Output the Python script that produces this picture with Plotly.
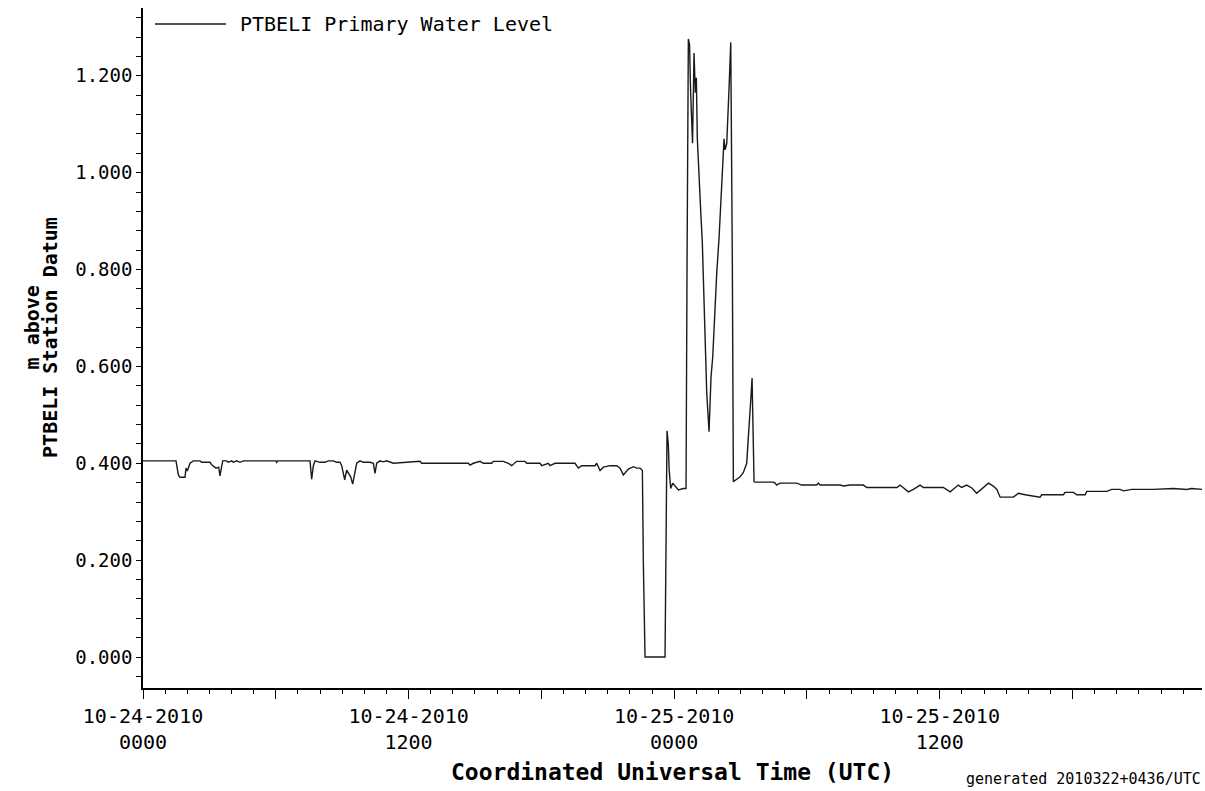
import pandas as pd
import plotly.graph_objects as go

BASE_TIME = "2010-10-24 00:00"
SERIES_NAME = "PTBELI Primary Water Level"

# hours after 2010-10-24 00:00 UTC
HOURS = [
    0.000, 1.491, 1.597, 1.672, 1.898, 1.943, 2.003, 2.124, 2.274, 2.576,
    2.651, 3.028, 3.103, 3.299, 3.419, 3.479, 3.600, 3.781, 3.856, 4.007,
    4.082, 4.233, 4.383, 4.534, 6.000, 6.040, 6.080, 7.546, 7.622, 7.697,
    7.772, 7.998, 8.224, 8.375, 8.601, 8.751, 8.902, 8.977, 9.053, 9.113,
    9.203, 9.324, 9.384, 9.474, 9.580, 9.655, 9.806, 9.956, 10.258, 10.408,
    10.484, 10.559, 10.710,
    10.86, 11.00, 11.312, 12.517, 12.592, 14.701, 14.776, 14.927, 15.228, 15.379,
    15.756, 15.831, 16.283, 16.508, 16.659, 16.885, 17.262, 17.337, 17.939, 18.015,
    18.316, 18.391, 18.617, 19.521, 19.672, 19.823, 20.425, 20.500, 20.651, 20.801,
    21.103, 21.404, 21.555, 21.705, 21.931,
    22.157, 22.308, 22.458, 22.564, 22.609, 22.684, 23.588, 23.618, 23.678, 23.738,
    23.769, 23.844, 23.934, 24.040, 24.190, 24.416, 24.537,
    24.582, 24.641, 24.695, 24.740, 24.830, 24.898, 24.957, 25.002, 25.047, 25.124,
    25.201, 25.273, 25.364, 25.472, 25.576, 25.621, 25.666, 25.743, 25.816, 25.924,
    26.028, 26.118, 26.195, 26.254, 26.299, 26.376, 26.480, 26.557, 26.629, 26.675,
    26.826, 26.977, 27.128, 27.278, 27.353, 27.429, 27.474, 27.520, 27.560, 27.610,
    27.65, 28.48, 28.56, 28.63, 28.78, 29.54, 29.76, 30.44, 30.52, 30.59,
    31.50, 31.65, 31.95, 32.55, 32.70, 34.06, 34.21, 34.43, 34.58, 34.81,
    35.11, 35.26, 36.16, 36.47, 36.84, 36.99, 37.22, 37.45, 37.67, 38.20,
    38.42, 38.58, 38.73, 39.33, 39.55, 39.86, 40.53, 40.61, 41.59, 41.66,
    42.04, 42.19, 42.57, 42.64, 43.55, 43.77, 44.15, 44.30, 44.68, 45.65,
    46.56, 47.16, 47.37, 47.85,
]

# metres above station datum
LEVEL = [
    0.405, 0.405, 0.376, 0.371, 0.371, 0.390, 0.384, 0.400, 0.405, 0.405,
    0.402, 0.402, 0.397, 0.390, 0.392, 0.374, 0.405, 0.405, 0.402, 0.405,
    0.402, 0.405, 0.402, 0.405, 0.405, 0.402, 0.405, 0.405, 0.367, 0.395,
    0.405, 0.402, 0.402, 0.405, 0.405, 0.402, 0.402, 0.395, 0.379, 0.366,
    0.386, 0.376, 0.372, 0.357, 0.379, 0.400, 0.405, 0.402, 0.402, 0.400,
    0.379, 0.400, 0.405,
    0.403, 0.405, 0.400, 0.404, 0.400, 0.400, 0.396, 0.400, 0.404, 0.400,
    0.400, 0.404, 0.404, 0.400, 0.395, 0.404, 0.404, 0.400, 0.400, 0.395,
    0.400, 0.395, 0.400, 0.400, 0.390, 0.395, 0.395, 0.400, 0.385, 0.392,
    0.395, 0.395, 0.390, 0.376, 0.388,
    0.393, 0.390, 0.390, 0.385, 0.192, 0.000, 0.000, 0.231, 0.467, 0.438,
    0.390, 0.348, 0.359, 0.353, 0.345, 0.348, 0.348,
    0.811, 1.276, 1.265, 1.171, 1.061, 1.247, 1.165, 1.196, 1.070, 0.975,
    0.920, 0.855, 0.717, 0.545, 0.465, 0.525, 0.578, 0.620, 0.700, 0.793,
    0.865, 0.937, 1.026, 1.070, 1.047, 1.060, 1.175, 1.269, 0.814, 0.362,
    0.367, 0.372, 0.381, 0.400, 0.455, 0.500, 0.540, 0.576, 0.467, 0.362,
    0.361, 0.361, 0.359, 0.355, 0.359, 0.359, 0.355, 0.355, 0.359, 0.355,
    0.355, 0.353, 0.355, 0.355, 0.350, 0.350, 0.355, 0.346, 0.341, 0.346,
    0.355, 0.350, 0.350, 0.341, 0.355, 0.350, 0.355, 0.349, 0.338, 0.359,
    0.353, 0.346, 0.330, 0.330, 0.338, 0.335, 0.330, 0.335, 0.335, 0.340,
    0.340, 0.335, 0.335, 0.342, 0.342, 0.346, 0.346, 0.343, 0.346, 0.346,
    0.348, 0.346, 0.348, 0.346,
]

X_TICK_HOURS = [0, 6, 12, 18, 24, 30, 36, 42]
X_TICK_TEXT = ["10-24-2010<br>0000", "", "10-24-2010<br>1200", "",
               "10-25-2010<br>0000", "", "10-25-2010<br>1200", ""]
X_END_HOURS = 47.85
Y_RANGE = [-0.064, 1.340]

base = pd.Timestamp(BASE_TIME)
times = base + pd.to_timedelta(HOURS, unit="h")
tickvals = base + pd.to_timedelta(X_TICK_HOURS, unit="h")
x_end = base + pd.to_timedelta(X_END_HOURS, unit="h")

MONO = "DejaVu Sans Mono"

fig = go.Figure()
fig.add_trace(go.Scatter(
    x=times, y=LEVEL, mode="lines", name=SERIES_NAME,
    line=dict(color="#1a1a1a", width=1.4), showlegend=False,
))

fig.update_layout(
    width=1205, height=791,
    margin=dict(l=143, r=3, t=8, b=103),
    paper_bgcolor="white", plot_bgcolor="white",
    font=dict(family=MONO, color="black"),
    xaxis=dict(
        type="date", range=[base, x_end],
        tickmode="array", tickvals=list(tickvals), ticktext=X_TICK_TEXT,
        ticks="outside", ticklen=9, tickwidth=1, tickcolor="black",
        tickfont=dict(family=MONO, size=20, color="black"),
        showgrid=False, zeroline=False,
        showline=True, linecolor="black", linewidth=2,
        minor=dict(dtick=3600000, tick0=BASE_TIME, ticks="outside",
                   ticklen=4, tickcolor="black", showgrid=False),
    ),
    yaxis=dict(
        range=Y_RANGE, tickmode="linear", tick0=0, dtick=0.2,
        tickformat=".3f",
        ticks="outside", ticklen=5, tickwidth=1, tickcolor="black",
        tickfont=dict(family=MONO, size=19, color="black"),
        showgrid=False, zeroline=False,
        showline=True, linecolor="black", linewidth=1.5,
        minor=dict(dtick=0.04, tick0=0, ticks="outside", ticklen=5,
                   tickcolor="black", showgrid=False),
    ),
)

# legend drawn manually (long sample line)
fig.add_shape(type="line", xref="paper", yref="paper",
              x0=0.0113, x1=0.0784, y0=0.9765, y1=0.9765,
              line=dict(color="#1a1a1a", width=1.3))
fig.add_annotation(xref="paper", yref="paper", x=0.0900, y=0.9765,
                   xanchor="left", yanchor="middle", showarrow=False,
                   text=SERIES_NAME, font=dict(family=MONO, size=20, color="black"))

# axis titles
fig.add_annotation(xref="paper", yref="paper", x=0.5, y=-0.1235,
                   xanchor="center", yanchor="middle", showarrow=False,
                   text="<b>Coordinated Universal Time (UTC)</b>",
                   font=dict(family=MONO, size=23, color="black"))
fig.add_annotation(xref="paper", yref="paper", x=-0.1050, y=0.530,
                   xanchor="center", yanchor="middle", showarrow=False,
                   textangle=-90, text="<b>m above</b>",
                   font=dict(family=MONO, size=20, color="black"))
fig.add_annotation(xref="paper", yref="paper", x=-0.0880, y=0.516,
                   xanchor="center", yanchor="middle", showarrow=False,
                   textangle=-90, text="<b>PTBELI Station Datum</b>",
                   font=dict(family=MONO, size=20, color="black"))
fig.add_annotation(xref="paper", yref="paper", x=1.0009, y=-0.134,
                   xanchor="right", yanchor="middle", showarrow=False,
                   text="generated 2010322+0436/UTC",
                   font=dict(family=MONO, size=15, color="black"))

fig.write_html(
    "out.html",
    config={"displayModeBar": False},
    post_script="document.body.style.margin='0';document.body.style.overflow='hidden';",
)
